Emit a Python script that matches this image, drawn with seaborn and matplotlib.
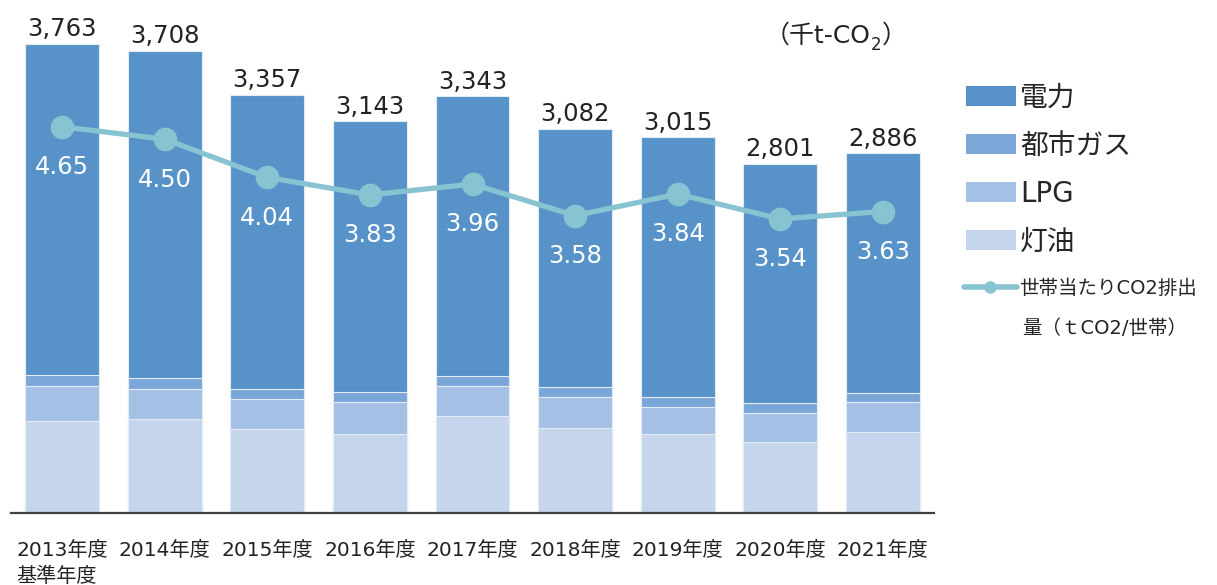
import numpy as np
import pandas as pd
import matplotlib
matplotlib.use('Agg')
import matplotlib.pyplot as plt
import seaborn as sns
from matplotlib.patches import Patch
from matplotlib.lines import Line2D

# ===== data =====
years = ['2013年度', '2014年度', '2015年度', '2016年度', '2017年度',
         '2018年度', '2019年度', '2020年度', '2021年度']
tick_labels = ['2013年度\n基準年度'] + years[1:]
kerosene = [738, 751, 674, 636, 775, 684, 636, 572, 650]      # 灯油
lpg = [283, 243, 243, 257, 245, 246, 217, 230, 238]           # LPG
city_gas = [88, 91, 78, 75, 78, 80, 78, 78, 78]               # 都市ガス
electricity = [2654, 2623, 2362, 2175, 2245, 2072, 2084, 1921, 1920]  # 電力
totals = [3763, 3708, 3357, 3143, 3343, 3082, 3015, 2801, 2886]
per_household = [4.65, 4.50, 4.04, 3.83, 3.96, 3.58, 3.84, 3.54, 3.63]

series_names = ['電力', '都市ガス', 'LPG', '灯油']
colors = ['#5793c9', '#7aa7d8', '#a4c0e4', '#c5d5eb']
line_color = '#88c3d2'

# ===== style =====
sns.set_style('white')
plt.rcParams['font.family'] = ['DejaVu Sans', 'Noto Sans CJK JP']

df = pd.DataFrame({'year': years, 'pos': np.arange(len(years)),
                   'kerosene': kerosene, 'lpg': lpg,
                   'city_gas': city_gas, 'electricity': electricity,
                   'per_household': per_household})
# cumulative heights for overdrawn stacking
df['c1'] = df['kerosene']
df['c2'] = df['c1'] + df['lpg']
df['c3'] = df['c2'] + df['city_gas']
df['c4'] = df['c3'] + df['electricity']

fig = plt.figure(figsize=(12.17, 5.85), dpi=100)
ax = fig.add_axes([0.009, 0.123, 0.7585, 0.852])

for col, c in zip(['c4', 'c3', 'c2', 'c1'], colors):
    sns.barplot(data=df, x='year', y=col, color=c, saturation=1,
                width=0.72, edgecolor='#e3ebf5', linewidth=0.8, ax=ax)

ax.set_ylim(0, 4000)
ax.set_xlim(-0.5, 8.5)
ax.set_xlabel('')
ax.set_ylabel('')
ax.set_yticks([])
ax.set_xticks(range(len(years)))
ax.set_xticklabels(tick_labels, fontsize=14.5, color='#222222')
ax.get_xticklabels()[0].set_multialignment('left')
ax.get_xticklabels()[0].set_linespacing(1.45)
ax.tick_params(axis='x', length=0, pad=20)
for s in ['top', 'right', 'left']:
    ax.spines[s].set_visible(False)
ax.spines['bottom'].set_color('#404040')
ax.spines['bottom'].set_linewidth(1.6)

for i, t in enumerate(totals):
    ax.annotate(f'{t:,}', (i, t), xytext=(0, 2), textcoords='offset points',
                ha='center', va='bottom', fontsize=17.5, color='#222222')

# ===== per-household line =====
ax2 = ax.twinx()
sns.lineplot(data=df, x='pos', y='per_household', ax=ax2, color=line_color,
             linewidth=3.8, marker='o', markersize=17, markeredgewidth=0)
ax2.set_ylim(0, 6)
ax2.set_xlim(-0.5, 8.5)
ax2.set_yticks([])
ax2.set_ylabel('')
ax2.set_xlabel('')
for s in ax2.spines.values():
    s.set_visible(False)
for i, v in enumerate(per_household):
    ax2.annotate(f'{v:.2f}', (i, v), xytext=(0, -29), textcoords='offset points',
                 ha='center', va='center', fontsize=17.5, color='white')

# ===== unit and legend =====
unit = fig.text(765 / 1217, 1 - 36 / 585, '（千t-CO', fontsize=18,
                ha='left', va='center', color='#222222')
fig.canvas.draw()
ext = unit.get_window_extent()
sub = fig.text(ext.x1 / 1217, 1 - 45 / 585, '2', fontsize=12,
               ha='left', va='center', color='#222222')
fig.canvas.draw()
ext2 = sub.get_window_extent()
fig.text(ext2.x1 / 1217, 1 - 36 / 585, '）', fontsize=18,
         ha='left', va='center', color='#222222')

handles = [Patch(facecolor=c, edgecolor='none') for c in colors]
leg = fig.legend(handles, series_names, loc='upper left',
                 bbox_to_anchor=(966 / 1217, 1 - 84 / 585), frameon=False,
                 fontsize=20, handlelength=1.8, handleheight=0.75,
                 handletextpad=0.15, labelspacing=0.72, borderpad=0,
                 borderaxespad=0)

line_handle = Line2D([0], [0], color=line_color, linewidth=4, marker='o',
                     markersize=9, markeredgewidth=0)
fig.legend([line_handle], ['世帯当たりCO2排出'], loc='center left',
           bbox_to_anchor=(964 / 1217, 1 - 288 / 585), frameon=False,
           fontsize=14, handlelength=2.7, handletextpad=0.15, borderpad=0,
           borderaxespad=0)
fig.text(1022 / 1217, 1 - 328 / 585, '量（ｔCO2/世帯）', fontsize=14,
         ha='left', va='center', color='#222222')

fig.savefig('out.png', dpi=100)
